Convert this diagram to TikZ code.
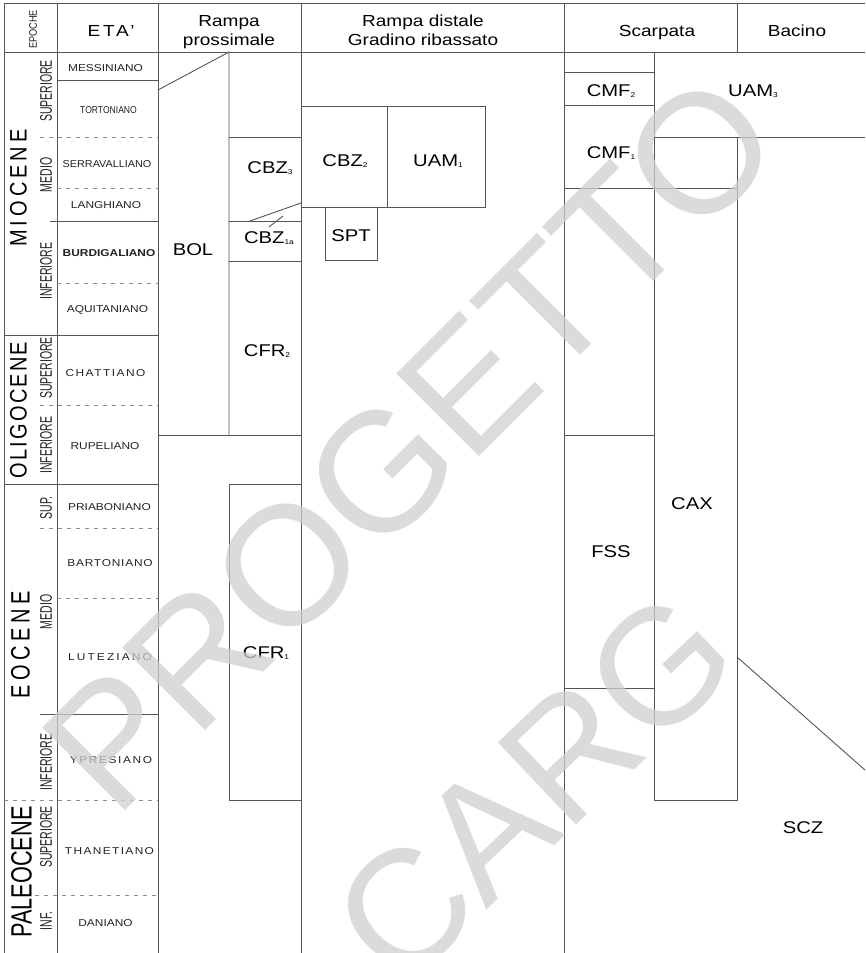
\documentclass[tikz,border=0pt]{standalone}
\usepackage{fontspec}
\setmainfont{Liberation Sans}
\usepackage{tikz}
\definecolor{grigiolinea}{HTML}{555555}
\definecolor{grigiotratto}{HTML}{8C8C8C}
\definecolor{grigiotesto}{HTML}{222222}
\definecolor{grigiofiligrana}{gray}{0.81}
\newcommand{\pedice}[1]{\raisebox{-1pt}{\fontsize{7}{7}\selectfont #1}}
\newcommand{\spaziato}[2]{{\addfontfeature{LetterSpace=#1}#2}}

\begin{document}
\begin{tikzpicture}[x=1pt, y=-1pt,
    linea/.style={draw=grigiolinea, line width=0.9pt},
    tratto/.style={draw=grigiotratto, line width=0.8pt, dash pattern=on 4pt off 5pt},
    titolo/.style={font=\fontsize{16}{19}\selectfont, xscale=1.19, align=center, inner sep=0pt},
    epoca/.style={font=\fontsize{20}{20}\selectfont, xscale=#1, rotate=90, inner sep=0pt},
    epoca/.default=1.19,
    sottoepoca/.style={font=\fontsize{10.5}{10.5}\selectfont, xscale=1.6, rotate=90,
      inner sep=0pt, text=grigiotesto},
    piano/.style={font=\fontsize{10}{10}\selectfont, xscale=1.19, anchor=base,
      inner sep=0pt, text=grigiotesto},
    unita/.style={font=\fontsize{17}{17}\selectfont, xscale=1.19, anchor=base, inner sep=0pt},
    filigrana/.style={font=\fontsize{#1}{#1}\selectfont, text=grigiofiligrana, opacity=0.74},
    filigrana/.default=165
  ]
    \useasboundingbox (0,0) rectangle (865,953);

    % cornice e colonne
    \draw[linea] (4,953) -- (4,3) -- (865,3);
    \draw[linea] (4,52) -- (865,52);
    \foreach \x in {57,158,301,564} \draw[linea] (\x,3) -- (\x,953);
    \draw[linea] (737,3) -- (737,52);

    % limiti dei piani
    \foreach \xa/\y in {57/80, 50/221, 4/335, 4/484, 40/714}
      \draw[linea] (\xa,\y) -- (158,\y);
    \foreach \xa/\y in {40/137, 57/188, 57/283, 40/405, 40/528, 57/598, 4/800, 35/895}
      \draw[tratto] (\xa,\y) -- (158,\y);

    % rampa prossimale
    \draw[linea] (158,90) -- (229,52) -- (229,435);
    \draw[linea] (158,435) -- (301,435);
    \foreach \y in {137,221,261} \draw[linea] (229,\y) -- (301,\y);
    \draw[linea] (250,221) -- (301,203);
    \draw[linea] (269,227) -- (283,216);
    \draw[linea] (229,484) rectangle (301,800);

    % rampa distale
    \draw[linea] (301,106) rectangle (387,207);
    \draw[linea] (387,106) rectangle (485,207);
    \draw[linea] (325,207) rectangle (377,260);

    % scarpata e bacino
    \draw[linea] (564,72) rectangle (654,105);
    \draw[linea] (564,188) -- (737,188);
    \draw[linea] (654,52) -- (654,800) -- (737,800) -- (737,137);
    \draw[linea] (654,137) -- (865,137);
    \draw[linea] (564,435) rectangle (654,688);
    \draw[linea] (737,657) -- (865,770);

    % intestazione
    \node[font=\fontsize{9.2}{9.2}\selectfont, xscale=1.19, rotate=90, inner sep=0pt,
      text=grigiotesto] (epoche) at (33,29.5) {EPOCHE};
    \node[titolo] (eta) at (111,31) {\spaziato{15}{ETA'}};
    \node[titolo] (prossimale) at (229,32.5) {Rampa\\prossimale};
    \node[titolo] (distale) at (423,30) {Rampa distale\\Gradino ribassato};
    \node[titolo, anchor=base] (scarpata) at (657,36) {Scarpata};
    \node[titolo, anchor=base] (bacino) at (797,36) {Bacino};

    % epoche
    \node[epoca] (miocene) at (18.5,188) {\spaziato{20}{MIOCENE}};
    \node[epoca] (oligocene) at (18.5,410) {\spaziato{10.7}{OLIGOCENE}};
    \node[epoca=1.33] (eocene) at (20.5,645) {\spaziato{22.5}{EOCENE}};
    \node[epoca=1.35, font=\fontsize{21.7}{21.7}\selectfont] (paleocene) at (21.5,872) {PALEOCENE};

    % sottoepoche
    \node[sottoepoca] (mio-sup) at (46,91) {SUPERIORE};
    \node[sottoepoca] (mio-med) at (46,175) {MEDIO};
    \node[sottoepoca] (mio-inf) at (46,271) {INFERIORE};
    \node[sottoepoca] (oli-sup) at (46,368) {SUPERIORE};
    \node[sottoepoca] (oli-inf) at (46,445) {INFERIORE};
    \node[sottoepoca] (eoc-sup) at (46,508) {SUP.};
    \node[sottoepoca] (eoc-med) at (46,612) {MEDIO};
    \node[sottoepoca] (eoc-inf) at (46,762) {INFERIORE};
    \node[sottoepoca] (pal-sup) at (46,837) {SUPERIORE};
    \node[sottoepoca] (pal-inf) at (46,921) {INF.};

    % piani
    \node[piano] (messiniano) at (105.5,71) {MESSINIANO};
    \node[piano, xscale=0.72] (tortoniano) at (108.5,113) {TORTONIANO};
    \node[piano, xscale=0.91] (serravalliano) at (107,167) {SERRAVALLIANO};
    \node[piano] (langhiano) at (106,208.5) {LANGHIANO};
    \node[piano, font=\fontsize{10}{10}\selectfont\bfseries] (burdigaliano) at (109,256.5) {BURDIGALIANO};
    \node[piano] (aquitaniano) at (107.5,312.5) {AQUITANIANO};
    \node[piano] (chattiano) at (105.5,376.5) {\spaziato{12.6}{CHATTIANO}};
    \node[piano] (rupeliano) at (105,449.5) {RUPELIANO};
    \node[piano] (priaboniano) at (109.5,510.5) {PRIABONIANO};
    \node[piano] (bartoniano) at (110,566.5) {\spaziato{6.7}{BARTONIANO}};
    \node[piano] (luteziano) at (110,660.5) {\spaziato{17.6}{LUTEZIANO}};
    \node[piano] (ypresiano) at (111,763.5) {\spaziato{13.4}{YPRESIANO}};
    \node[piano] (thanetiano) at (109.5,854.5) {\spaziato{11.5}{THANETIANO}};
    \node[piano] (daniano) at (105.5,926.5) {DANIANO};

    % unita
    \node[unita] (bol) at (193,255) {BOL};
    \node[unita] (cbz3) at (270,173) {CBZ\pedice{3}};
    \node[unita] (cbz1a) at (269,243) {CBZ\pedice{1a}};
    \node[unita] (cfr2) at (267,356) {CFR\pedice{2}};
    \node[unita] (cfr1) at (266,658) {CFR\pedice{1}};
    \node[unita] (cbz2) at (345,166) {CBZ\pedice{2}};
    \node[unita] (uam1) at (438,166) {UAM\pedice{1}};
    \node[unita] (spt) at (351,241) {SPT};
    \node[unita] (cmf2) at (611,96) {CMF\pedice{2}};
    \node[unita] (uam3) at (753,96) {UAM\pedice{3}};
    \node[unita] (cmf1) at (611,158) {CMF\pedice{1}};
    \node[unita] (fss) at (611,557) {FSS};
    \node[unita] (cax) at (692,509) {CAX};
    \node[unita] (scz) at (803,833) {SCZ};

    % filigrana
    \node[filigrana=170, rotate=45] (progetto) at (410,443) {PROGETTO};
    \node[filigrana, rotate=43.5] (carg) at (534,787) {CARG};
  \end{tikzpicture}
\end{document}
